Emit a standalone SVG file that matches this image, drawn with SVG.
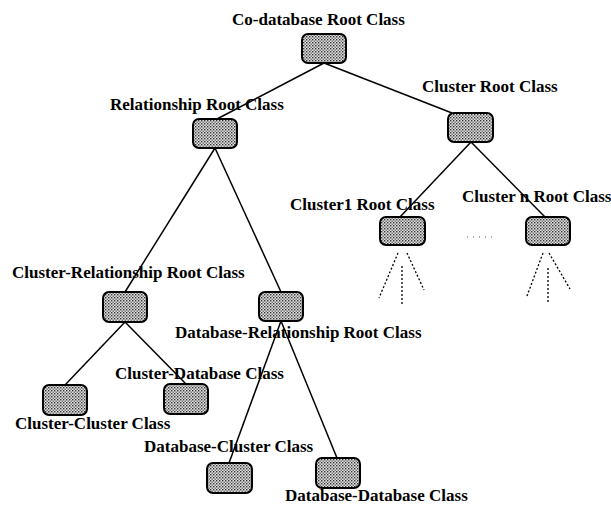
<svg xmlns="http://www.w3.org/2000/svg" width="611" height="506" viewBox="0 0 611 506">
<defs>
<pattern id="dots" width="3" height="3" patternUnits="userSpaceOnUse">
<rect width="3" height="3" fill="#e0e0e0"/>
<rect x="0" y="0" width="1.4" height="1.4" fill="#333"/>
<rect x="1.5" y="1.5" width="1.4" height="1.4" fill="#666"/>
</pattern>
</defs>
<style>
.box{fill:url(#dots);stroke:#000;stroke-width:2}
.lbl{font-family:"Liberation Serif","Times New Roman",serif;font-weight:bold;font-size:17px;fill:#000}
.edge{stroke:#000;stroke-width:1.5;fill:none}
.dot{stroke:#000;stroke-width:1.3;stroke-dasharray:2,2;fill:none}
.sparse{stroke:#555;stroke-width:1;stroke-dasharray:1,5;fill:none}
</style>
<rect width="611" height="506" fill="#fff"/>
<g id="connectors">
<line class="edge" x1="324" y1="63" x2="217" y2="119"/>
<line class="edge" x1="324" y1="63" x2="452" y2="113"/>
<line class="edge" x1="215" y1="148" x2="125" y2="292"/>
<line class="edge" x1="215" y1="148" x2="281" y2="292"/>
<line class="edge" x1="471" y1="142" x2="400" y2="217"/>
<line class="edge" x1="471" y1="142" x2="545" y2="217"/>
<line class="edge" x1="125" y1="322" x2="65" y2="385"/>
<line class="edge" x1="125" y1="322" x2="186" y2="384"/>
<line class="edge" x1="281" y1="321" x2="229" y2="463"/>
<line class="edge" x1="281" y1="321" x2="337" y2="458"/>
<line class="dot" x1="398" y1="253" x2="379" y2="298"/>
<line class="dot" x1="402" y1="266" x2="402" y2="305"/>
<line class="dot" x1="407" y1="253" x2="424" y2="290"/>
<line class="dot" x1="543" y1="253" x2="527" y2="296"/>
<line class="dot" x1="548" y1="268" x2="548" y2="303"/>
<line class="dot" x1="549" y1="253" x2="570" y2="289"/>
<line class="sparse" x1="467" y1="237" x2="492" y2="237"/>
</g>
<g id="codb"><rect class="box" x="302" y="34" width="44" height="29" rx="6"/><text class="lbl" x="232" y="25">Co-database Root Class</text></g>
<g id="rel"><rect class="box" x="193" y="119" width="44" height="29" rx="6"/><text class="lbl" x="110" y="110">Relationship Root Class</text></g>
<g id="clusterRoot"><rect class="box" x="448" y="113" width="45" height="29" rx="6"/><text class="lbl" x="422" y="92">Cluster Root Class</text></g>
<g id="cluster1"><rect class="box" x="380" y="217" width="45" height="28" rx="6"/><text class="lbl" x="290" y="210">Cluster1 Root Class</text></g>
<g id="clusterN"><rect class="box" x="526" y="217" width="44" height="28" rx="6"/><text class="lbl" x="462" y="202">Cluster n Root Class</text></g>
<g id="crel"><rect class="box" x="103" y="292" width="44" height="30" rx="6"/><text class="lbl" x="12" y="278">Cluster-Relationship Root Class</text></g>
<g id="dbrel"><rect class="box" x="259" y="292" width="44" height="29" rx="6"/><text class="lbl" x="175" y="338">Database-Relationship Root Class</text></g>
<g id="cc"><rect class="box" x="43" y="385" width="44" height="30" rx="6"/><text class="lbl" x="15" y="429">Cluster-Cluster Class</text></g>
<g id="cd"><rect class="box" x="164" y="384" width="44" height="30" rx="6"/><text class="lbl" x="115" y="379">Cluster-Database Class</text></g>
<g id="dbc"><rect class="box" x="207" y="463" width="45" height="30" rx="6"/><text class="lbl" x="144" y="452">Database-Cluster Class</text></g>
<g id="dbdb"><rect class="box" x="316" y="458" width="44" height="30" rx="6"/><text class="lbl" x="285" y="501">Database-Database Class</text></g>
</svg>
